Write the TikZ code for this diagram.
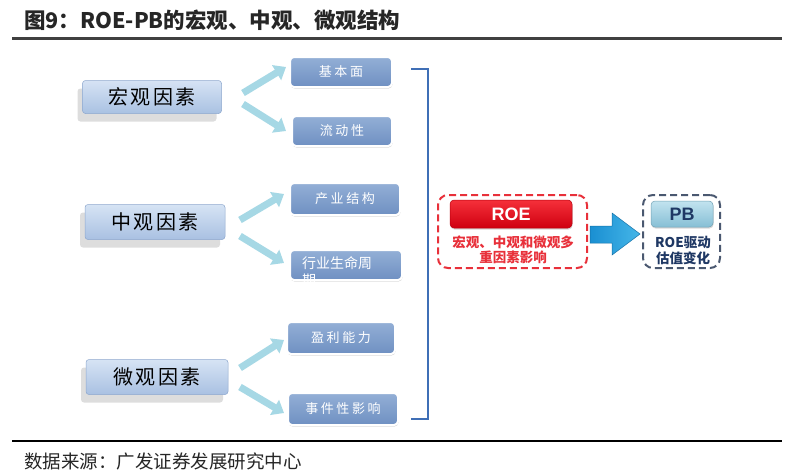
\documentclass[tikz,border=0pt]{standalone}
\usepackage{fontspec}
\setmainfont{Noto Sans CJK SC}
\newfontfamily\cjk{Noto Sans CJK SC}
\newfontfamily\cjkls[LetterSpace=12]{Noto Sans CJK SC}
\newfontfamily\cjksm[LetterSpace=20]{Noto Sans CJK SC}
\newfontfamily\arialf{Liberation Sans}
\usetikzlibrary{arrows.meta,shadows,calc}
\definecolor{ltop}{HTML}{D6E3F4}
\definecolor{lbot}{HTML}{A9C1E2}
\definecolor{lbord}{HTML}{8EA8CE}
\definecolor{stop}{HTML}{93AFD6}
\definecolor{sbot}{HTML}{6F90C2}
\definecolor{cyanA}{HTML}{A6D8E5}
\definecolor{brkblue}{HTML}{3F6FB6}
\definecolor{roered}{HTML}{E60012}
\definecolor{roetop}{HTML}{F5303A}
\definecolor{redD}{HTML}{E8303A}
\definecolor{pbtop}{HTML}{C2E3EF}
\definecolor{pbbot}{HTML}{86BFD5}
\definecolor{navy}{HTML}{1F3864}
\definecolor{pbdash}{HTML}{4A5870}
\definecolor{bluea}{HTML}{1A8FD2}
\definecolor{blueb}{HTML}{45B6E8}
\begin{document}
\begin{tikzpicture}[x=1pt,y=-1pt,
  lbox/.style={draw=lbord,line width=0.5pt,rounded corners=3pt,top color=ltop,bottom color=lbot,
    inner sep=0pt,minimum height=33pt,font=\cjkls\fontsize{20}{24}\selectfont,text=black,
    drop shadow={shadow xshift=-5pt,shadow yshift=-8pt,opacity=.22,fill=black!60}},
  sbox/.style={draw=white,line width=2pt,rounded corners=4pt,top color=stop,bottom color=sbot,
    inner sep=0pt,minimum height=30pt,text=white,font=\cjksm\fontsize{13}{15}\selectfont,
    drop shadow={shadow xshift=0.5pt,shadow yshift=-1.5pt,opacity=.3,fill=black!50}},
  arr/.style={draw=cyanA,line width=7pt,-{Triangle[length=11pt,width=17pt]}},
  grp/.style={dashed,dash pattern=on 7pt off 4pt,line width=2pt,rounded corners=10pt,inner sep=0pt}
]
\useasboundingbox (0,0) rectangle (800,471);
\fill[white] (0,0) rectangle (800,471);

% title and rules
\node[anchor=west,inner sep=0pt,text=black!85,font=\cjk\bfseries\fontsize{21.5}{24}\selectfont] (title) at (24,20) {图9：ROE-PB的宏观、中观、微观结构};
\draw[line width=3pt,black!75] (12,38) -- (782,38);
\draw[line width=1.2pt,black] (12,441) -- (782,441);
\node[anchor=west,inner sep=0pt,text=black!85,font=\cjk\fontsize{18.5}{21}\selectfont] (src) at (24,461) {数据来源：广发证券发展研究中心};

% left boxes
\node[lbox,minimum width=139pt] (m1) at (152,97) {宏观因素};
\node[lbox,minimum width=140pt,minimum height=35pt] (m2) at (155,222) {中观因素};
\node[lbox,minimum width=142pt,minimum height=35pt] (m3) at (157,377) {微观因素};

% small boxes
\node[sbox,minimum width=102pt] (s1) at (341,72) {基本面};
\node[sbox,minimum width=100pt] (s2) at (342,131) {流动性};
\node[sbox,minimum width=110pt,minimum height=32pt] (s3) at (345,199) {产业结构};
\node[sbox,minimum width=112pt] (s4) at (346,265) {};
\node[anchor=north west,inner sep=0pt,text=white,align=left,font=\cjk\fontsize{14}{17}\selectfont] (s4t) at (302,256) {行业生命周\\期};
\node[sbox,minimum width=108pt,minimum height=32pt] (s5) at (341,338) {盈利能力};
\node[sbox,minimum width=110pt,minimum height=32pt] (s6) at (343,409) {事件性影响};

% cyan arrows
\coordinate (a1s) at (243,93);  \coordinate (a1e) at (286,67);
\coordinate (a2s) at (243,104); \coordinate (a2e) at (286,131);
\coordinate (a3s) at (240,220); \coordinate (a3e) at (284,194);
\coordinate (a4s) at (240,236); \coordinate (a4e) at (284,263);
\coordinate (a5s) at (240,368); \coordinate (a5e) at (284,340);
\coordinate (a6s) at (240,387); \coordinate (a6e) at (284,413);
\draw[arr] (a1s) -- (a1e);
\draw[arr] (a2s) -- (a2e);
\draw[arr] (a3s) -- (a3e);
\draw[arr] (a4s) -- (a4e);
\draw[arr] (a5s) -- (a5e);
\draw[arr] (a6s) -- (a6e);

% bracket
\coordinate (bt1) at (411,69); \coordinate (bt2) at (428,69);
\coordinate (bb2) at (428,419); \coordinate (bb1) at (411,419);
\draw[brkblue,line width=2.5pt] (bt1) -- (bt2) -- (bb2) -- (bb1);

% ROE group
\node[grp,draw=redD,minimum width=149pt,minimum height=73pt] (roeg) at (512.5,231.5) {};
\node[draw=roered!80!black,line width=0.5pt,rounded corners=4pt,top color=roetop,bottom color=roered!90!black,
  minimum width=122pt,minimum height=28pt,inner sep=0pt,text=white,font=\arialf\bfseries\fontsize{18}{20}\selectfont,
  drop shadow={shadow xshift=0.5pt,shadow yshift=-1.5pt,opacity=.3}] (roe) at (511,214) {ROE};
\node[align=center,inner sep=0pt,text=redD,font=\cjk\bfseries\fontsize{13.5}{15}\selectfont] (roet) at (513,250) {宏观、中观和微观多\\重因素影响};

% big blue arrow
\shade[left color=bluea,right color=blueb,draw=bluea!80!black,line width=0.5pt]
  (590,226) -- (612,226) -- (612,213) -- (640,234) -- (612,255) -- (612,243) -- (590,243) -- cycle;

% PB group
\node[grp,draw=pbdash,minimum width=77pt,minimum height=73pt] (pbg) at (681.5,231.5) {};
\node[draw=pbbot!85!black,line width=0.5pt,rounded corners=4pt,top color=pbtop,bottom color=pbbot,
  minimum width=62pt,minimum height=26pt,inner sep=0pt,text=navy,font=\arialf\bfseries\fontsize{18}{20}\selectfont,
  drop shadow={shadow xshift=0.5pt,shadow yshift=-1.5pt,opacity=.3}] (pb) at (682,214) {PB};
\node[align=center,inner sep=0pt,text=navy,font=\cjk\bfseries\fontsize{13.5}{15.5}\selectfont] (pbt) at (683,250.5) {ROE驱动\\估值变化};
\end{tikzpicture}
\end{document}
